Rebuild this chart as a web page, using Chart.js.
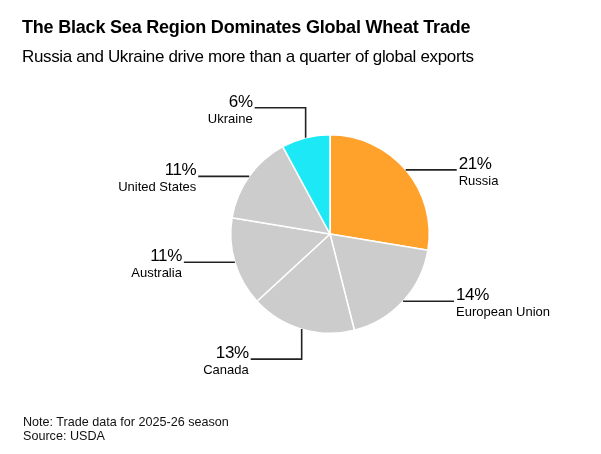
<!DOCTYPE html>
<html>
<head>
<meta charset="utf-8">
<script src="https://cdn.jsdelivr.net/npm/chart.js@4.4.1/dist/chart.umd.min.js"></script>
<style>
    html, body { margin: 0; padding: 0; background: #fff; }
    body { width: 601px; height: 454px; position: relative; overflow: hidden; font-family: 'Liberation Sans', Arial, sans-serif; color: #000; }
    #wheatChart { position: absolute; left: 0; top: 0; }
    .txt { position: absolute; left: 22px; white-space: nowrap; line-height: 1.117; }
    .title { top: 17px; font-size: 18px; font-weight: bold; letter-spacing: -0.2px; }
    .subtitle { top: 47px; font-size: 17px; letter-spacing: -0.35px; }
    .note { left: 23px; font-size: 12.6px; color: #111; }
</style>
</head>
<body>
<canvas id="wheatChart" width="601" height="454"></canvas>
<div class="txt title">The Black Sea Region Dominates Global Wheat Trade</div>
<div class="txt subtitle">Russia and Ukraine drive more than a quarter of global exports</div>
<div class="txt note" style="top:415px">Note: Trade data for 2025-26 season</div>
<div class="txt note" style="top:429px">Source: USDA</div>

<script>
// Share of global wheat exports, 2025-26 (%)
const countries = ['Russia', 'European Union', 'Canada', 'Australia', 'United States', 'Ukraine'];
const shares = [21, 14, 13, 11, 11, 6];
const sliceColors = ['#ffa22c', '#cccccc', '#cccccc', '#cccccc', '#cccccc', '#1de8f6'];

// Leader lines + two-line labels, positioned from each arc's own geometry
const leaderLabels = {
    id: 'leaderLabels',
    afterDatasetsDraw(chart) {
        const ctx = chart.ctx;
        const meta = chart.getDatasetMeta(0);
        meta.data.forEach((arc, i) => {
            const { x, y, startAngle, endAngle, outerRadius } = arc.getProps(['x', 'y', 'startAngle', 'endAngle', 'outerRadius'], true);
            const mid = (startAngle + endAngle) / 2;
            const cos = Math.cos(mid), sin = Math.sin(mid);
            const side = cos >= 0 ? 1 : -1;

            let px = x + cos * outerRadius;
            let py = y + sin * outerRadius;

            ctx.save();
            ctx.strokeStyle = '#222';
            ctx.lineWidth = 1.6;
            ctx.beginPath();
            ctx.moveTo(px, py);
            // near the top or bottom: go out vertically first, then sideways
            if (Math.abs(sin) > 0.85) {
                py = py + Math.sign(sin) * 30;
                ctx.lineTo(px, py);
            }
            const ex = px + side * 51;
            ctx.lineTo(ex, py);
            ctx.stroke();

            const tx = ex + side * 2;
            ctx.textAlign = side > 0 ? 'left' : 'right';
            ctx.textBaseline = 'alphabetic';
            ctx.fillStyle = '#000';
            ctx.font = '17px "Liberation Sans", Arial, sans-serif';
            ctx.letterSpacing = '-0.4px';
            ctx.fillText(shares[i] + '%', tx, py - 1);
            ctx.letterSpacing = '0px';
            ctx.font = '13px "Liberation Sans", Arial, sans-serif';
            ctx.fillText(countries[i], tx, py + 15);
            ctx.restore();
        });
    }
};

const ctx = document.getElementById('wheatChart').getContext('2d');

new Chart(ctx, {
    type: 'pie',
    data: {
        labels: countries,
        datasets: [{
            data: shares,
            backgroundColor: sliceColors,
            borderColor: '#ffffff',
            borderWidth: 1.5,
            hoverOffset: 0
        }]
    },
    options: {
        responsive: false,
        animation: false,
        // pie box: centre (330, 234), radius 100
        layout: { padding: { left: 230, right: 171, top: 134, bottom: 120 } },
        plugins: {
            legend: { display: false },
            tooltip: { enabled: false }
        }
    },
    plugins: [leaderLabels]
});
</script>
</body>
</html>
